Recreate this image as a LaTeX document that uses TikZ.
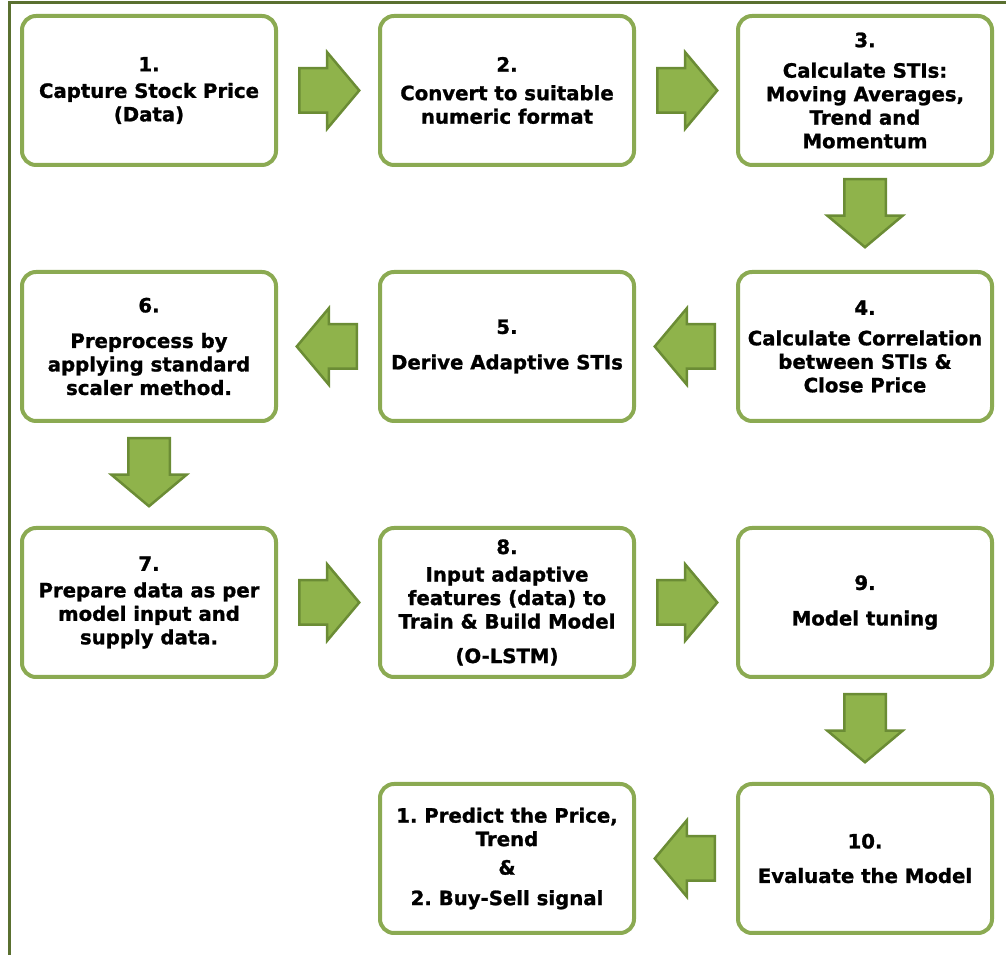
\documentclass[tikz,border=0pt]{standalone}
\usepackage{fontspec}
\setmainfont{DejaVu Sans}[BoldFeatures={FakeBold=1.2}]
\usepackage{xcolor}
\usepackage{tikz}
\usetikzlibrary{positioning,calc,shapes.arrows}
\definecolor{frame}{HTML}{5A7030}
\definecolor{edge}{HTML}{8BAA52}
\definecolor{leaf}{HTML}{8FB34B}
\definecolor{leafdark}{HTML}{6B8C35}

\begin{document}
\begin{tikzpicture}[
  stage/.style={draw=edge,fill=white,rounded corners=14pt,line width=4pt,
                minimum width=254pt,minimum height=149pt,align=center,
                font=\frenchspacing\bfseries\fontsize{19.7}{23.5}\selectfont},
  blk/.style={single arrow,draw=leafdark,fill=leaf,line width=2.5pt,anchor=tail,
              inner xsep=0pt,inner ysep=21pt,single arrow head extend=16pt,
              single arrow tip angle=100,minimum height=60pt},
  rarr/.style={blk},
  larr/.style={blk,rotate=180},
  darr/.style={blk,rotate=-90,inner ysep=19.5pt,single arrow head extend=17pt,
               minimum height=68pt}]
\useasboundingbox (0,0) rectangle (1006pt,955pt);
\draw[frame,line width=3pt] (9.5pt,0) |- (1006pt,952pt);
% row 1
\node[stage] (b1) at (149pt,864.5pt) {1.\\[3pt]Capture Stock Price\\(Data)};
\node[stage,right=100pt of b1] (b2) {2.\\[5pt]Convert to suitable\\numeric format};
\node[stage,right=100pt of b2] (b3) {3.\\[7pt]Calculate STIs:\\Moving Averages,\\Trend and\\Momentum};
% row 2
\node[stage,below=103pt of b3] (b4) {4.\\[7pt]Calculate Correlation\\between STIs \&\\Close Price};
\node[stage,left=100pt of b4] (b5) {5.\\[12pt]Derive Adaptive STIs};
\node[stage,left=100pt of b5] (b6) {6.\\[12pt]Preprocess by\\applying standard\\scaler method.};
% row 3
\node[stage,below=103pt of b6] (b7) {7.\\[3pt]Prepare data as per\\model input and\\supply data.};
\node[stage,right=100pt of b7] (b8) {8.\\[4pt]Input adaptive\\features (data) to\\Train \& Build Model\\[11pt](O-LSTM)};
\node[stage,right=100pt of b8] (b9) {9.\\[12pt]Model tuning};
% row 4
\node[stage,below=103pt of b9] (b10) {10.\\[11pt]Evaluate the Model};
\node[stage,left=100pt of b10] (res) {1. Predict the Price,\\Trend\\[5pt]\&\\[7pt]2. Buy-Sell signal};
% block arrows
\node[rarr] (a12) at ([xshift=20pt]b1.east) {};
\node[rarr] (a23) at ([xshift=20pt]b2.east) {};
\node[darr] (a34) at ([yshift=-11pt]b3.south) {};
\node[larr] (a45) at ([xshift=-20pt]b4.west) {};
\node[larr] (a56) at ([xshift=-20pt]b5.west) {};
\node[darr] (a67) at ([yshift=-14pt]b6.south) {};
\node[rarr] (a78) at ([xshift=20pt]b7.east) {};
\node[rarr] (a89) at ([xshift=20pt]b8.east) {};
\node[darr] (a910) at ([yshift=-14pt]b9.south) {};
\node[larr] (a10r) at ([xshift=-20pt]b10.west) {};
\end{tikzpicture}
\end{document}
